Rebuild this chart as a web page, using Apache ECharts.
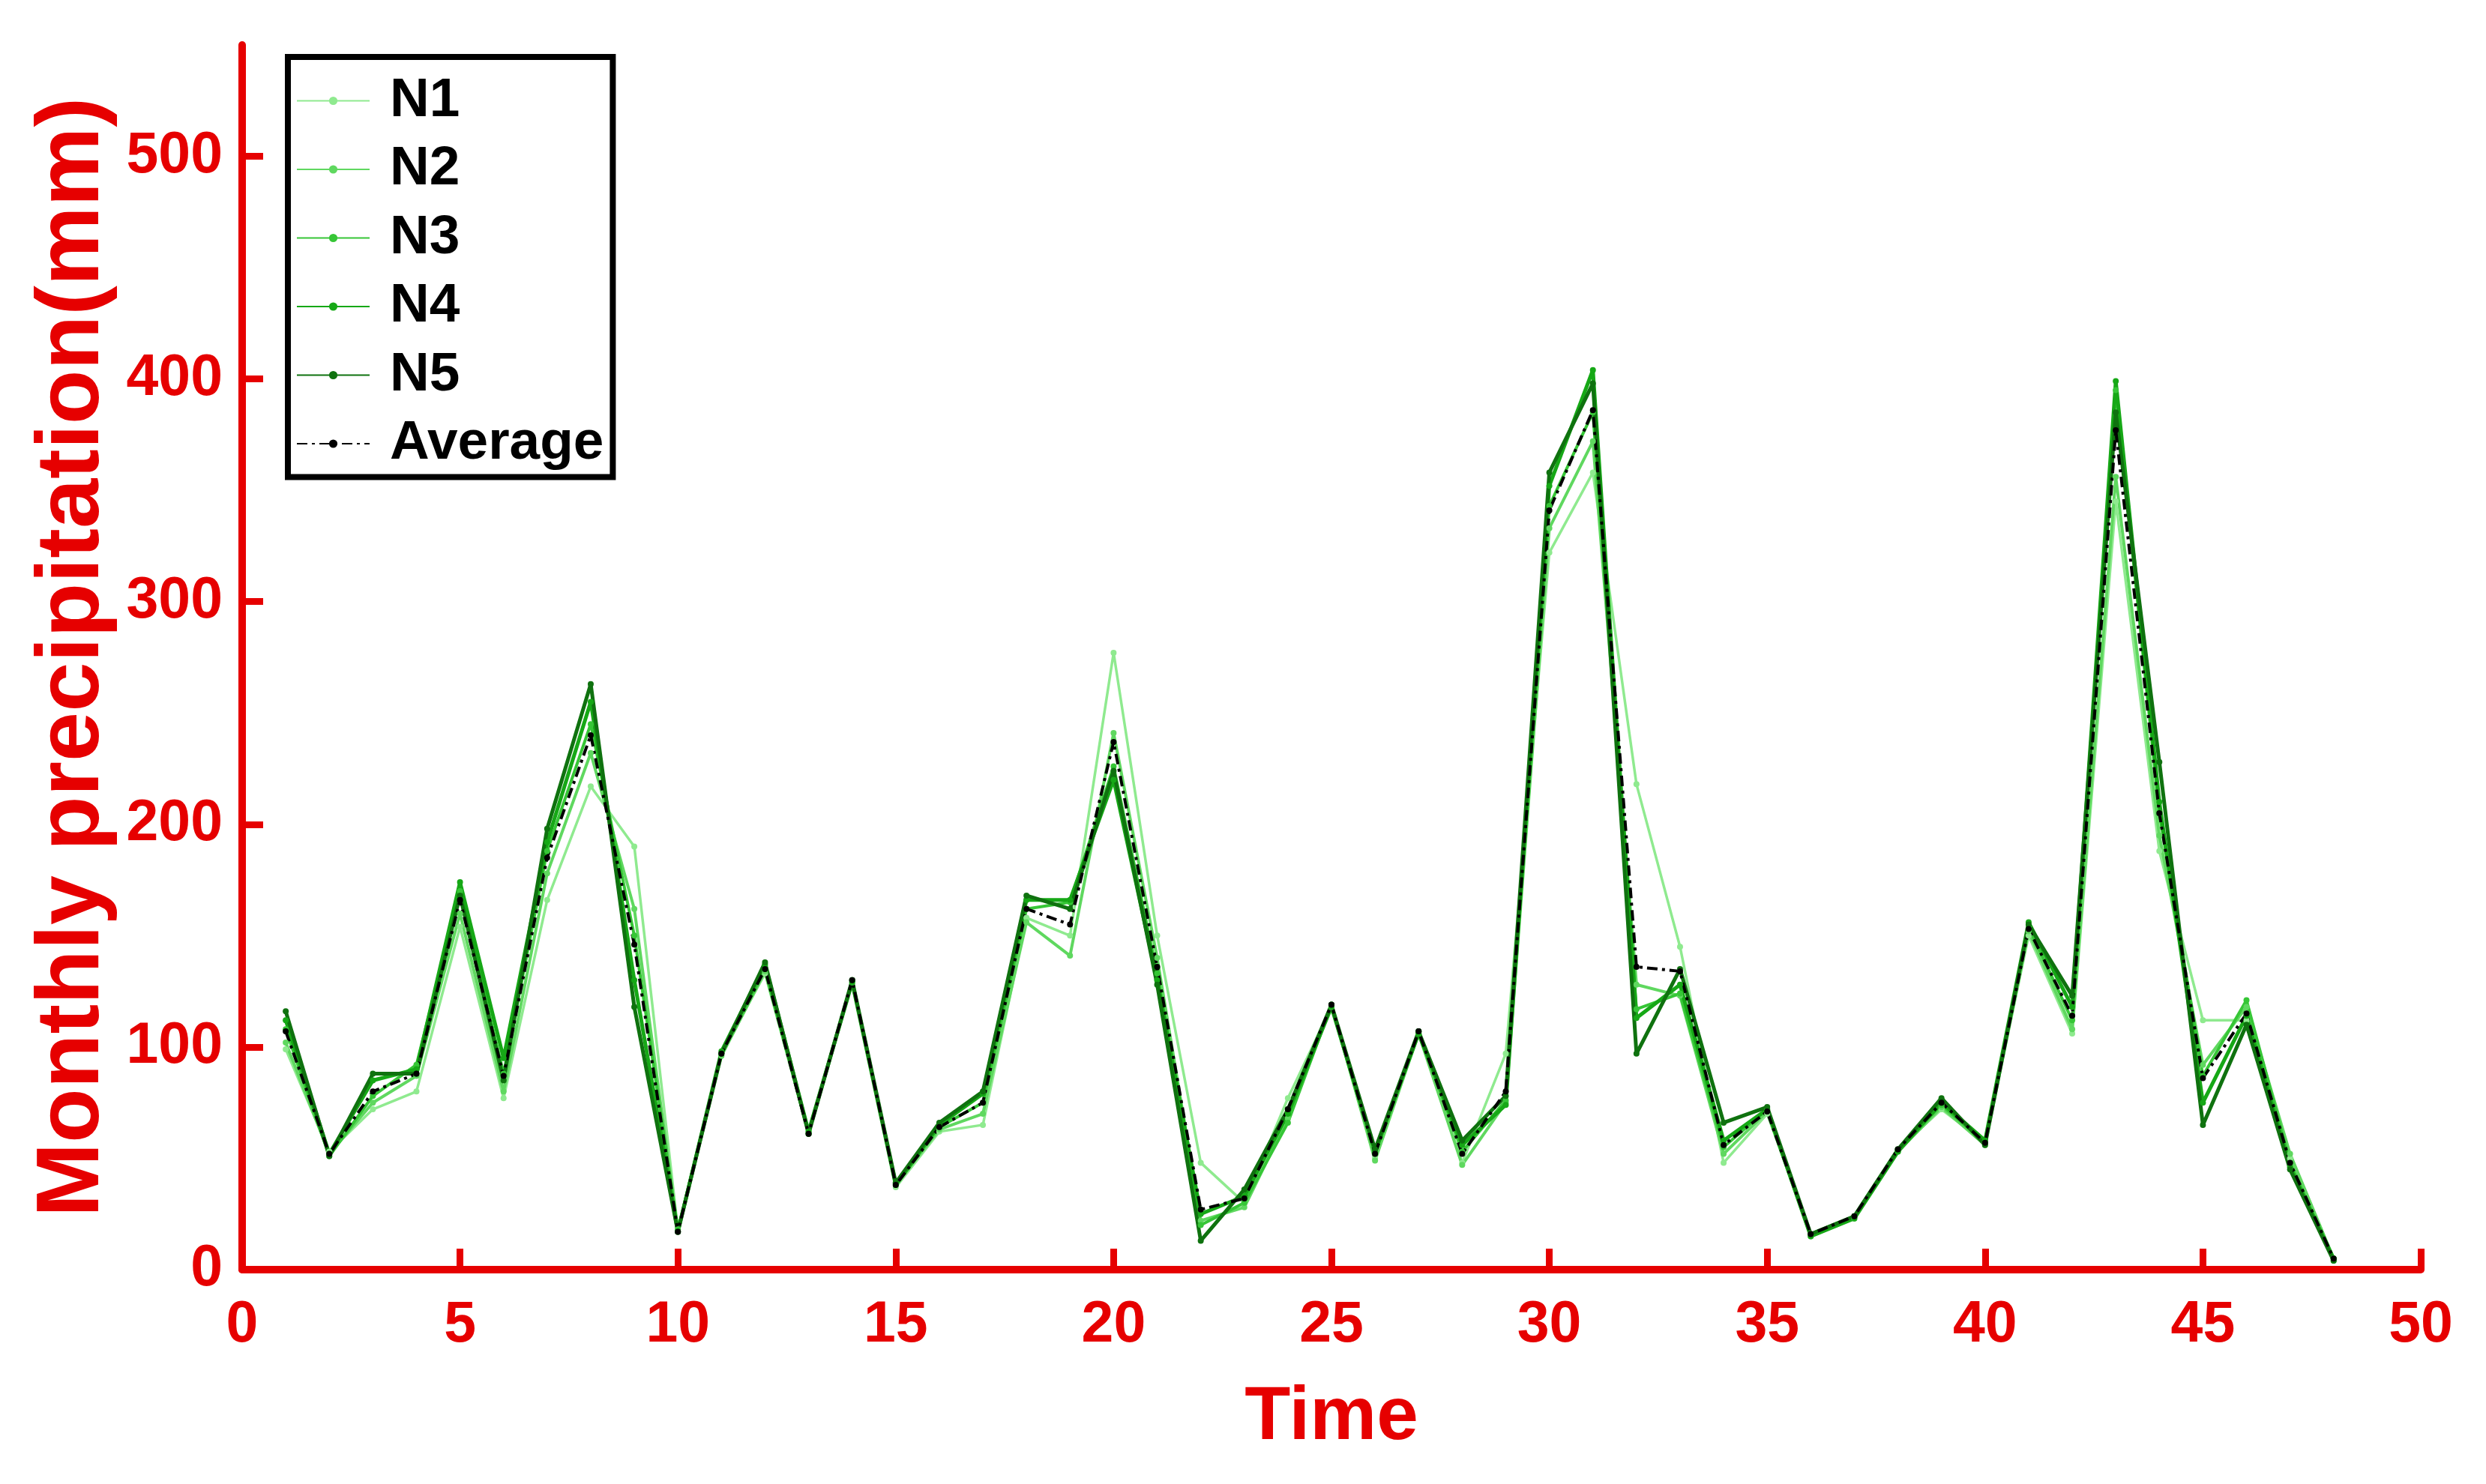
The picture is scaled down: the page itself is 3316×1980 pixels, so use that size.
<!DOCTYPE html>
<html>
<head>
<meta charset="utf-8">
<title>Monthly precipitation</title>
<script src="https://cdn.jsdelivr.net/npm/echarts@6/dist/echarts.min.js"></script>
<style>
  html, body { margin: 0; padding: 0; background: #fff; }
  #main { width: 3316px; height: 1980px; }
</style>
</head>
<body>
<div id="main"></div>
<script>
// time steps 1..48
const timeSteps = [1,2,3,4,5,6,7,8,9,10,11,12,13,14,15,16,17,18,19,20,21,22,23,24,
  25,26,27,28,29,30,31,32,33,34,35,36,37,38,39,40,41,42,43,44,45,46,47,48]

// monthly precipitation (mm)
const n1 = [99,53,72,80,154,77,166,217,190,18,97,133,61,130,37,62,65,158,150,277,150,48,30,77,
  118,50,107,48,97,322,358,218,145,48,70,16,24,54,72,57,150,106,345,188,112,112,50,5]
const n2 = [102,52,75,87,160,80,178,232,162,17,96,134,62,129,38,63,70,156,141,241,140,22,28,68,
  119,49,106,47,75,333,372,128,123,52,71,15,23,53,73,56,152,108,356,195,92,118,52,5]
const n3 = [108,51,78,92,170,88,188,245,150,18,97,135,61,130,39,64,75,162,165,226,133,20,30,66,
  119,52,107,53,76,343,385,117,124,55,72,16,24,54,74,57,154,112,395,205,87,121,48,4]
const n4 = [112,52,85,90,174,95,192,255,130,17,98,137,62,129,38,65,79,166,166,220,130,25,33,70,
  118,53,106,56,74,352,404,113,128,58,72,15,23,53,75,58,156,118,399,210,75,114,46,5]
const n5 = [116,51,88,88,168,85,198,263,118,17,97,138,61,130,39,66,80,168,162,224,128,13,36,72,
  119,54,107,58,78,358,398,97,135,66,73,16,24,54,77,56,155,123,385,228,65,110,45,4]
const average = [107,52,80,88,166,87,185,240,146,17,97,135,61,130,38,64,75,162,155,237,136,27,32,72,
  119,52,107,52,80,341,386,136,134,56,71,16,24,54,75,57,153,114,377,205,86,115,48,5]

const yTicks = [0, 100, 200, 300, 400, 500]

const red = '#e60000'
const font = 'Liberation Sans'

const seriesDefs = [
  { name: 'N1', data: n1, color: '#8fea8f', width: 3.5 },
  { name: 'N2', data: n2, color: '#5fd85f', width: 4 },
  { name: 'N3', data: n3, color: '#36c636', width: 4 },
  { name: 'N4', data: n4, color: '#16a816', width: 5 },
  { name: 'N5', data: n5, color: '#0f720f', width: 5 },
]

let series = seriesDefs.map((s) => ({
  name: s.name,
  type: 'line',
  data: timeSteps.map((t, i) => [t, s.data[i]]),
  symbol: 'circle',
  symbolSize: 8,
  itemStyle: { color: s.color },
  lineStyle: { color: s.color, width: s.width },
  emphasis: { disabled: true },
}))
series.push({
  name: 'Average',
  type: 'line',
  data: timeSteps.map((t, i) => [t, average[i]]),
  symbol: 'circle',
  symbolSize: 8,
  itemStyle: { color: '#000' },
  lineStyle: { color: '#000', width: 4, type: [14, 6, 4, 6] },
  emphasis: { disabled: true },
  z: 3,
})

let myChart = echarts.init(document.getElementById('main'))
let option = {
  backgroundColor: '#fff',
  animation: false,
  grid: { left: 323, right: 87, top: 60, bottom: 286, containLabel: false },
  legend: {
    orient: 'vertical',
    left: 384,
    top: 76,
    data: ['N1', 'N2', 'N3', 'N4', 'N5', 'Average'],
    itemWidth: 97,
    itemHeight: 14,
    itemGap: 18.5,
    padding: [22, 12, 8, 11],
    borderColor: '#000',
    borderWidth: 8,
    textStyle: {
      fontFamily: font,
      fontWeight: 'bold',
      fontSize: 73,
      lineHeight: 70,
      color: '#000',
      padding: [0, 0, 0, 22],
    },
  },
  xAxis: {
    type: 'value',
    min: 0,
    max: 50,
    interval: 5,
    name: 'Time',
    nameLocation: 'middle',
    nameGap: 148,
    nameTextStyle: { fontFamily: font, fontWeight: 'bold', fontSize: 100, color: red },
    axisLine: { show: true, lineStyle: { color: red, width: 10 } },
    axisTick: { show: true, inside: true, length: 28, lineStyle: { color: red, width: 9 } },
    axisLabel: { fontFamily: font, fontWeight: 'bold', fontSize: 77, color: red, margin: 36 },
    splitLine: { show: false },
  },
  yAxis: {
    type: 'value',
    min: 0,
    max: 550,
    name: 'Monthly precipitation(mm)',
    nameLocation: 'middle',
    nameGap: 165,
    nameTextStyle: { fontFamily: font, fontWeight: 'bold', fontSize: 119, color: red },
    axisLine: { show: true, lineStyle: { color: red, width: 10 } },
    axisTick: { show: true, inside: true, length: 28, customValues: yTicks, lineStyle: { color: red, width: 9 } },
    axisLabel: { fontFamily: font, fontWeight: 'bold', fontSize: 77, color: red, margin: 26, customValues: yTicks },
    splitLine: { show: false },
  },
  series: series,
}
myChart.setOption(option)
</script>
</body>
</html>
